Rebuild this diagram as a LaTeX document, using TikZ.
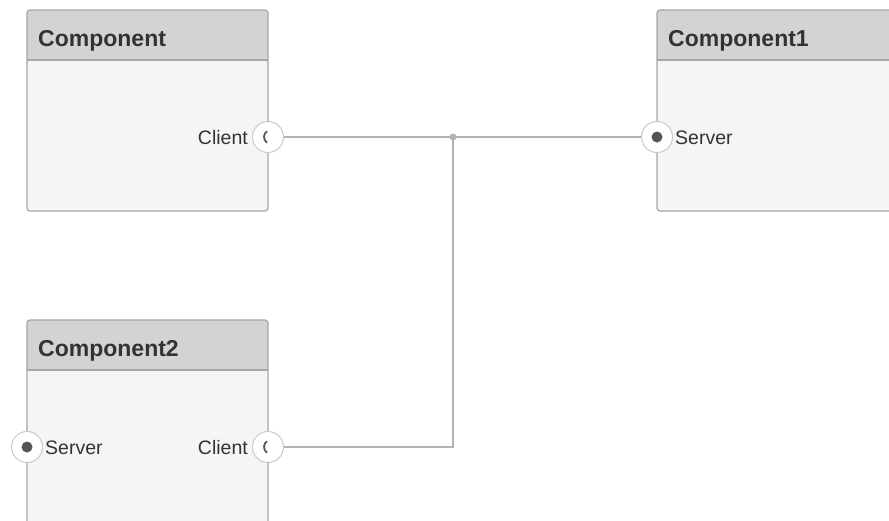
\documentclass[tikz,border=0pt]{standalone}
\usepackage{fontspec}
\setmainfont{Liberation Sans}
\definecolor{boxfill}{HTML}{F5F5F5}
\definecolor{headfill}{HTML}{D3D3D3}
\definecolor{boxline}{HTML}{A6A6A6}
\definecolor{wire}{HTML}{B3B3B3}
\definecolor{txt}{HTML}{333333}
\definecolor{portdot}{HTML}{555555}
\begin{document}
\begin{tikzpicture}[x=1pt,y=-1pt,
  compbox/.style={fill=boxfill, rounded corners=3pt, minimum width=241pt, minimum height=201pt, anchor=north west, inner sep=0pt, outer sep=0pt},
  compline/.style={draw=boxline, line width=1.2pt, rounded corners=3pt},
  headtext/.style={anchor=west, text=txt, font=\fontsize{23}{27}\selectfont\bfseries, inner sep=0pt},
  port/.style={circle, draw=boxline!60, fill=white, line width=1pt, minimum size=31pt, inner sep=0pt},
  portlabel/.style={text=txt, font=\fontsize{19.5}{23}\selectfont, inner sep=0pt},
  wireline/.style={draw=wire, line width=1.4pt}]
\useasboundingbox (0,0) rectangle (889,520);
\clip (0,0) rectangle (889,520);

% boxes
\node[compbox] (c0) at (27,10) {};
\node[compbox, minimum height=240pt] (c2) at (27,320) {};
\node[compbox, minimum width=260pt] (c1) at (657,10) {};

\foreach \b in {c0,c1,c2}{
  \fill[headfill] ([yshift=-50pt]\b.north west) [rounded corners=3pt] -- (\b.north west) -- (\b.north east) [sharp corners] -- ([yshift=-50pt]\b.north east) -- cycle;
  \draw[boxline, line width=1.2pt] ([yshift=-50pt]\b.north west) -- ([yshift=-50pt]\b.north east);
  \draw[compline] (\b.south west) rectangle (\b.north east);
}

\node[headtext] (h0) at (38,41) {Component};
\node[headtext] (h1) at (668,41) {Component1};
\node[headtext] (h2) at (38,351) {Component2};

% ports
\node[port] (p0c) at (268,137) {};
\node[port] (p1s) at (657,137) {};
\node[port] (p2s) at (27,447) {};
\node[port] (p2c) at (268,447) {};

\foreach \p in {p0c,p2c}{
  \draw[portdot, line width=1.8pt] ([xshift=3pt]\p.center) ++(125:7) arc[start angle=125, end angle=235, radius=7];
}
\foreach \p in {p1s,p2s}{
  \fill[portdot] (\p.center) circle[radius=5.5];
}

\node[portlabel, anchor=east] (l0c) at (248,138) {Client};
\node[portlabel, anchor=west] (l1s) at (675,138) {Server};
\node[portlabel, anchor=west] (l2s) at (45,448) {Server};
\node[portlabel, anchor=east] (l2c) at (248,448) {Client};

% connectors
\coordinate (j) at (453,137);
\draw[wireline] (p0c.east) -- (j) -- (p1s.west);
\draw[wireline] (j) |- (p2c.east);
\fill[wire] (j) circle[radius=3.5];
\end{tikzpicture}
\end{document}
